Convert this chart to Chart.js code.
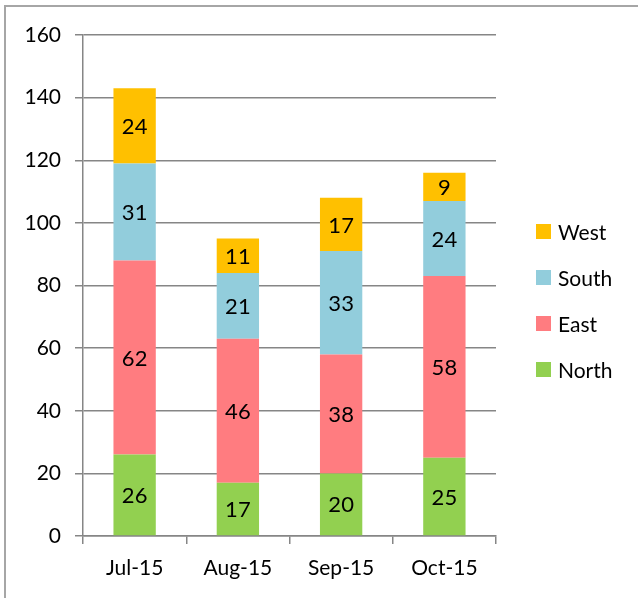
<!DOCTYPE html>
<html>
<head>
<meta charset="utf-8">
<script src="https://cdn.jsdelivr.net/npm/chart.js@4"></script>
<style>
    html, body { margin: 0; padding: 0; background: #fff; }
    #wrap { position: relative; width: 638px; height: 598px; overflow: hidden; }
    #grafico { position: absolute; left: 0; top: 0; }
    #moldura {
        position: absolute; left: 4px; top: 5px; width: 640px; height: 600px;
        border-left: 2px solid #a6a6a6; border-top: 2px solid #a6a6a6;
        pointer-events: none;
    }
    #legenda { position: absolute; left: 536px; top: 219px; font-family: Lato, sans-serif; font-size: 21px; color: #000; }
    .leg-item { height: 46px; display: flex; align-items: flex-start; }
    .leg-box { width: 15px; height: 15px; margin-top: 5px; margin-right: 7px; }
</style>
</head>
<body>
<div id="wrap">
    <canvas id="grafico" width="638" height="598"></canvas>
    <div id="moldura"></div>
    <div id="legenda"></div>
</div>
<script>
// dados
var meses = ["Jul-15", "Aug-15", "Sep-15", "Oct-15"];
var norte = [26, 17, 20, 25];
var leste = [62, 46, 38, 58];
var sul   = [31, 21, 33, 24];
var oeste = [24, 11, 17, 9];
var ticksY = [0, 20, 40, 60, 80, 100, 120, 140, 160];

var series = [
    { nome: "North", valores: norte, cor: "#92D050" },
    { nome: "East",  valores: leste, cor: "#FF7C80" },
    { nome: "South", valores: sul,   cor: "#92CDDC" },
    { nome: "West",  valores: oeste, cor: "#FFC000" }
];

var fonte = "Lato, 'Open Sans', sans-serif";

// escreve o valor no meio de cada pedaço da barra
var rotulos = {
    id: "rotulos",
    afterDatasetsDraw: function (chart) {
        var ctx = chart.ctx;
        ctx.save();
        ctx.font = "22px " + fonte;
        ctx.fillStyle = "#000";
        ctx.textAlign = "center";
        ctx.textBaseline = "middle";
        chart.data.datasets.forEach(function (ds, i) {
            chart.getDatasetMeta(i).data.forEach(function (bar, j) {
                var meio = (bar.y + bar.base) / 2;
                ctx.fillText(ds.data[j], bar.x, meio + 1);
            });
        });
        ctx.restore();
    }
};

new Chart(document.getElementById("grafico"), {
    type: "bar",
    data: {
        labels: meses,
        datasets: series.map(function (s) {
            return {
                label: s.nome,
                data: s.valores,
                backgroundColor: s.cor,
                borderWidth: 0,
                barPercentage: 0.41,
                categoryPercentage: 1
            };
        })
    },
    options: {
        responsive: false,
        animation: false,
        layout: { padding: { top: 35, right: 142, left: 0, bottom: 0 } },
        plugins: {
            legend: { display: false },
            tooltip: { enabled: false }
        },
        scales: {
            x: {
                stacked: true,
                afterFit: function (escala) { escala.height = 62; },
                grid: { offset: true, drawOnChartArea: false, color: "#868686", tickLength: 8, lineWidth: 1.5 },
                border: { color: "#868686", width: 1.5 },
                ticks: { color: "#000", font: { family: fonte, size: 21 }, padding: 12 }
            },
            y: {
                stacked: true,
                min: 0,
                max: 160,
                afterFit: function (escala) { escala.width = 83; },
                afterBuildTicks: function (escala) {
                    escala.ticks = ticksY.map(function (v) { return { value: v }; });
                },
                grid: { color: "#868686", tickLength: 8, lineWidth: 1.5 },
                border: { color: "#868686", width: 1.5 },
                ticks: { color: "#000", font: { family: fonte, size: 21 }, padding: 14 }
            }
        }
    },
    plugins: [rotulos]
});

// legenda em ordem inversa (West em cima)
var legenda = document.getElementById("legenda");
series.slice().reverse().forEach(function (s) {
    legenda.innerHTML +=
        '<div class="leg-item">' +
            '<span class="leg-box" style="background:' + s.cor + '"></span>' +
            '<span>' + s.nome + '</span>' +
        '</div>';
});
</script>
</body>
</html>
